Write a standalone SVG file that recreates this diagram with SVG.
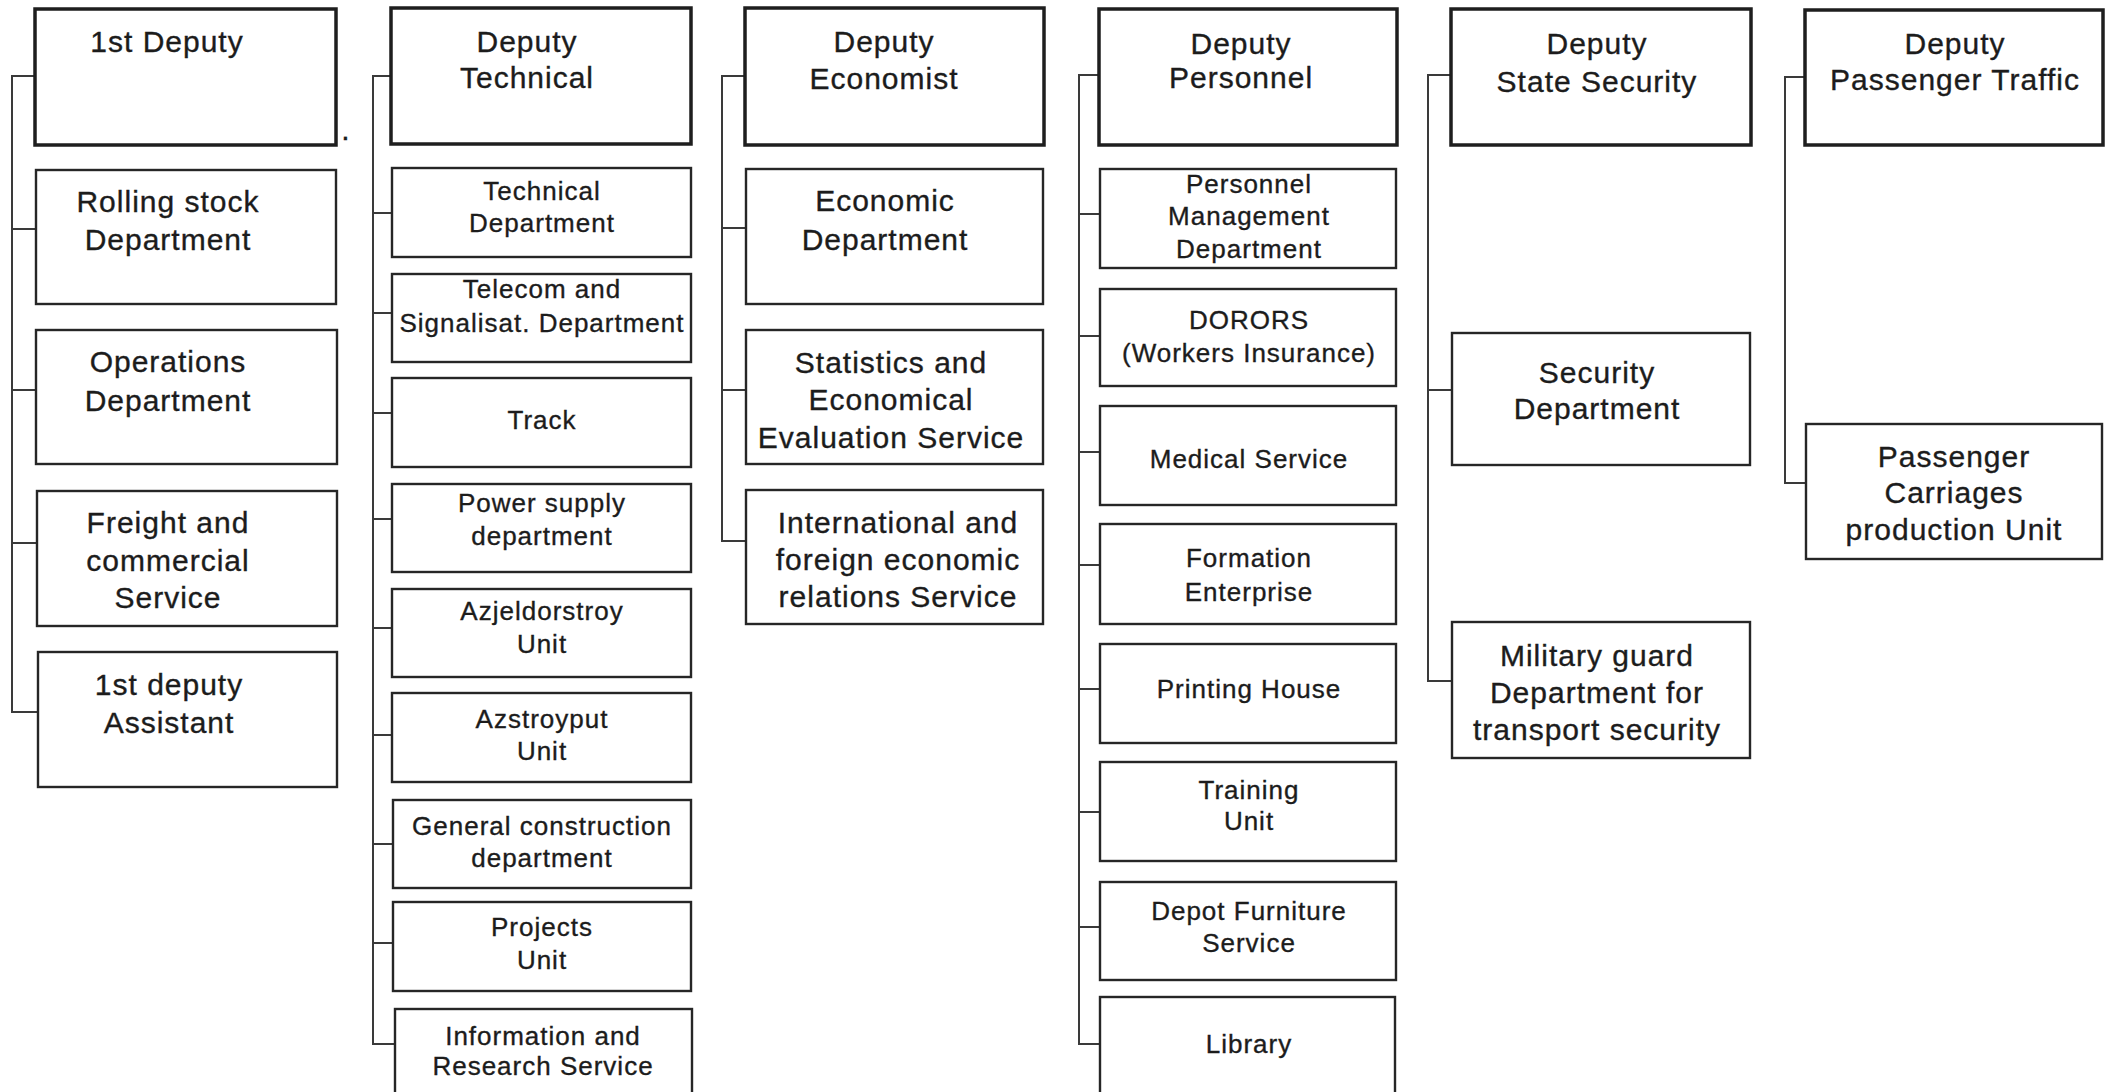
<svg xmlns="http://www.w3.org/2000/svg" width="2107" height="1092" viewBox="0 0 2107 1092">
  <style>
    .bg { fill: #ffffff; }
    .head { fill: #ffffff; stroke: #1e1e1e; stroke-width: 3.5; }
    .unit { fill: #ffffff; stroke: #262626; stroke-width: 2.4; }
    .link { fill: none; stroke: #3a3a3a; stroke-width: 2; }
    text { font-family: "Liberation Sans", Arial, sans-serif; fill: #1c1c1c; stroke: #1c1c1c; stroke-width: 0.35px; text-anchor: middle; letter-spacing: 1px; }
    .lg { font-size: 30px; }
    .sm { font-size: 26px; }
  </style>

  <rect class="bg" x="0" y="0" width="2107" height="1092"/>

  <!-- hierarchy connectors: one spine per column, stubs to each box -->
  <g id="connectors">
    <path class="link" d="M35 76 H12 V712 H37 M12 229 H36 M12 390 H36 M12 543 H37"/>
    <path class="link" d="M391 76 H373 V1044 H395 M373 213 H392 M373 313 H392 M373 413 H392 M373 519 H392 M373 628 H392 M373 735 H392 M373 844 H392 M373 943 H392"/>
    <path class="link" d="M745 76 H722 V541 H746 M722 228 H746 M722 390 H746"/>
    <path class="link" d="M1099 75 H1079 V1044 H1100 M1079 214 H1100 M1079 336 H1100 M1079 452 H1100 M1079 565 H1100 M1079 689 H1100 M1079 812 H1100 M1079 927 H1100"/>
    <path class="link" d="M1451 75 H1428 V681 H1452 M1428 390 H1452"/>
    <path class="link" d="M1805 77 H1785 V483 H1806"/>
  </g>

  <!-- column 1: 1st Deputy -->
  <g id="first-deputy">
    <rect class="head" x="35" y="9" width="301" height="136"/>
    <text class="lg" x="167" y="52">1st Deputy</text>
  </g>
  <text x="346" y="140" style="font-size:30px">.</text>
  <g id="rolling-stock">
    <rect class="unit" x="36" y="170" width="300" height="134"/>
    <text class="lg" x="168" y="212">Rolling stock</text>
    <text class="lg" x="168" y="250">Department</text>
  </g>
  <g id="operations">
    <rect class="unit" x="36" y="330" width="301" height="134"/>
    <text class="lg" x="168" y="372">Operations</text>
    <text class="lg" x="168" y="411">Department</text>
  </g>
  <g id="freight">
    <rect class="unit" x="37" y="491" width="300" height="135"/>
    <text class="lg" x="168" y="533">Freight and</text>
    <text class="lg" x="168" y="571">commercial</text>
    <text class="lg" x="168" y="608">Service</text>
  </g>
  <g id="first-deputy-assistant">
    <rect class="unit" x="38" y="652" width="299" height="135"/>
    <text class="lg" x="169" y="695">1st deputy</text>
    <text class="lg" x="169" y="733">Assistant</text>
  </g>

  <!-- column 2: Deputy Technical -->
  <g id="deputy-technical">
    <rect class="head" x="391" y="8" width="300" height="136"/>
    <text class="lg" x="527" y="52">Deputy</text>
    <text class="lg" x="527" y="88">Technical</text>
  </g>
  <g id="technical-department">
    <rect class="unit" x="392" y="168" width="299" height="89"/>
    <text class="sm" x="542" y="200">Technical</text>
    <text class="sm" x="542" y="232">Department</text>
  </g>
  <g id="telecom">
    <rect class="unit" x="392" y="274" width="299" height="88"/>
    <text class="sm" x="542" y="298">Telecom and</text>
    <text class="sm" x="542" y="332">Signalisat. Department</text>
  </g>
  <g id="track">
    <rect class="unit" x="392" y="378" width="299" height="89"/>
    <text class="sm" x="542" y="429">Track</text>
  </g>
  <g id="power-supply">
    <rect class="unit" x="392" y="484" width="299" height="88"/>
    <text class="sm" x="542" y="512">Power supply</text>
    <text class="sm" x="542" y="545">department</text>
  </g>
  <g id="azjeldorstroy">
    <rect class="unit" x="392" y="589" width="299" height="88"/>
    <text class="sm" x="542" y="620">Azjeldorstroy</text>
    <text class="sm" x="542" y="653">Unit</text>
  </g>
  <g id="azstroyput">
    <rect class="unit" x="392" y="693" width="299" height="89"/>
    <text class="sm" x="542" y="728">Azstroyput</text>
    <text class="sm" x="542" y="760">Unit</text>
  </g>
  <g id="general-construction">
    <rect class="unit" x="393" y="800" width="298" height="88"/>
    <text class="sm" x="542" y="835">General construction</text>
    <text class="sm" x="542" y="867">department</text>
  </g>
  <g id="projects">
    <rect class="unit" x="393" y="902" width="298" height="89"/>
    <text class="sm" x="542" y="936">Projects</text>
    <text class="sm" x="542" y="969">Unit</text>
  </g>
  <g id="information-research">
    <rect class="unit" x="395" y="1009" width="297" height="100"/>
    <text class="sm" x="543" y="1045">Information and</text>
    <text class="sm" x="543" y="1075">Research Service</text>
  </g>

  <!-- column 3: Deputy Economist -->
  <g id="deputy-economist">
    <rect class="head" x="745" y="8" width="299" height="137"/>
    <text class="lg" x="884" y="52">Deputy</text>
    <text class="lg" x="884" y="89">Economist</text>
  </g>
  <g id="economic-department">
    <rect class="unit" x="746" y="169" width="297" height="135"/>
    <text class="lg" x="885" y="211">Economic</text>
    <text class="lg" x="885" y="250">Department</text>
  </g>
  <g id="statistics">
    <rect class="unit" x="746" y="330" width="297" height="134"/>
    <text class="lg" x="891" y="373">Statistics and</text>
    <text class="lg" x="891" y="410">Economical</text>
    <text class="lg" x="891" y="448">Evaluation Service</text>
  </g>
  <g id="international">
    <rect class="unit" x="746" y="490" width="297" height="134"/>
    <text class="lg" x="898" y="533">International and</text>
    <text class="lg" x="898" y="570">foreign economic</text>
    <text class="lg" x="898" y="607">relations Service</text>
  </g>

  <!-- column 4: Deputy Personnel -->
  <g id="deputy-personnel">
    <rect class="head" x="1099" y="9" width="298" height="136"/>
    <text class="lg" x="1241" y="54">Deputy</text>
    <text class="lg" x="1241" y="88">Personnel</text>
  </g>
  <g id="personnel-management">
    <rect class="unit" x="1100" y="169" width="296" height="99"/>
    <text class="sm" x="1249" y="193">Personnel</text>
    <text class="sm" x="1249" y="225">Management</text>
    <text class="sm" x="1249" y="258">Department</text>
  </g>
  <g id="dorors">
    <rect class="unit" x="1100" y="289" width="296" height="97"/>
    <text class="sm" x="1249" y="329">DORORS</text>
    <text class="sm" x="1249" y="362">(Workers Insurance)</text>
  </g>
  <g id="medical-service">
    <rect class="unit" x="1100" y="406" width="296" height="99"/>
    <text class="sm" x="1249" y="468">Medical Service</text>
  </g>
  <g id="formation-enterprise">
    <rect class="unit" x="1100" y="524" width="296" height="100"/>
    <text class="sm" x="1249" y="567">Formation</text>
    <text class="sm" x="1249" y="601">Enterprise</text>
  </g>
  <g id="printing-house">
    <rect class="unit" x="1100" y="644" width="296" height="99"/>
    <text class="sm" x="1249" y="698">Printing House</text>
  </g>
  <g id="training-unit">
    <rect class="unit" x="1100" y="762" width="296" height="99"/>
    <text class="sm" x="1249" y="799">Training</text>
    <text class="sm" x="1249" y="830">Unit</text>
  </g>
  <g id="depot-furniture">
    <rect class="unit" x="1100" y="882" width="296" height="98"/>
    <text class="sm" x="1249" y="920">Depot Furniture</text>
    <text class="sm" x="1249" y="952">Service</text>
  </g>
  <g id="library">
    <rect class="unit" x="1100" y="997" width="295" height="110"/>
    <text class="sm" x="1249" y="1053">Library</text>
  </g>

  <!-- column 5: Deputy State Security -->
  <g id="deputy-state-security">
    <rect class="head" x="1451" y="9" width="300" height="136"/>
    <text class="lg" x="1597" y="54">Deputy</text>
    <text class="lg" x="1597" y="92">State Security</text>
  </g>
  <g id="security-department">
    <rect class="unit" x="1452" y="333" width="298" height="132"/>
    <text class="lg" x="1597" y="383">Security</text>
    <text class="lg" x="1597" y="419">Department</text>
  </g>
  <g id="military-guard">
    <rect class="unit" x="1452" y="622" width="298" height="136"/>
    <text class="lg" x="1597" y="666">Military guard</text>
    <text class="lg" x="1597" y="703">Department for</text>
    <text class="lg" x="1597" y="740">transport security</text>
  </g>

  <!-- column 6: Deputy Passenger Traffic -->
  <g id="deputy-passenger-traffic">
    <rect class="head" x="1805" y="10" width="298" height="135"/>
    <text class="lg" x="1955" y="54">Deputy</text>
    <text class="lg" x="1955" y="90">Passenger Traffic</text>
  </g>
  <g id="passenger-carriages">
    <rect class="unit" x="1806" y="424" width="296" height="135"/>
    <text class="lg" x="1954" y="467">Passenger</text>
    <text class="lg" x="1954" y="503">Carriages</text>
    <text class="lg" x="1954" y="540">production Unit</text>
  </g>
</svg>
